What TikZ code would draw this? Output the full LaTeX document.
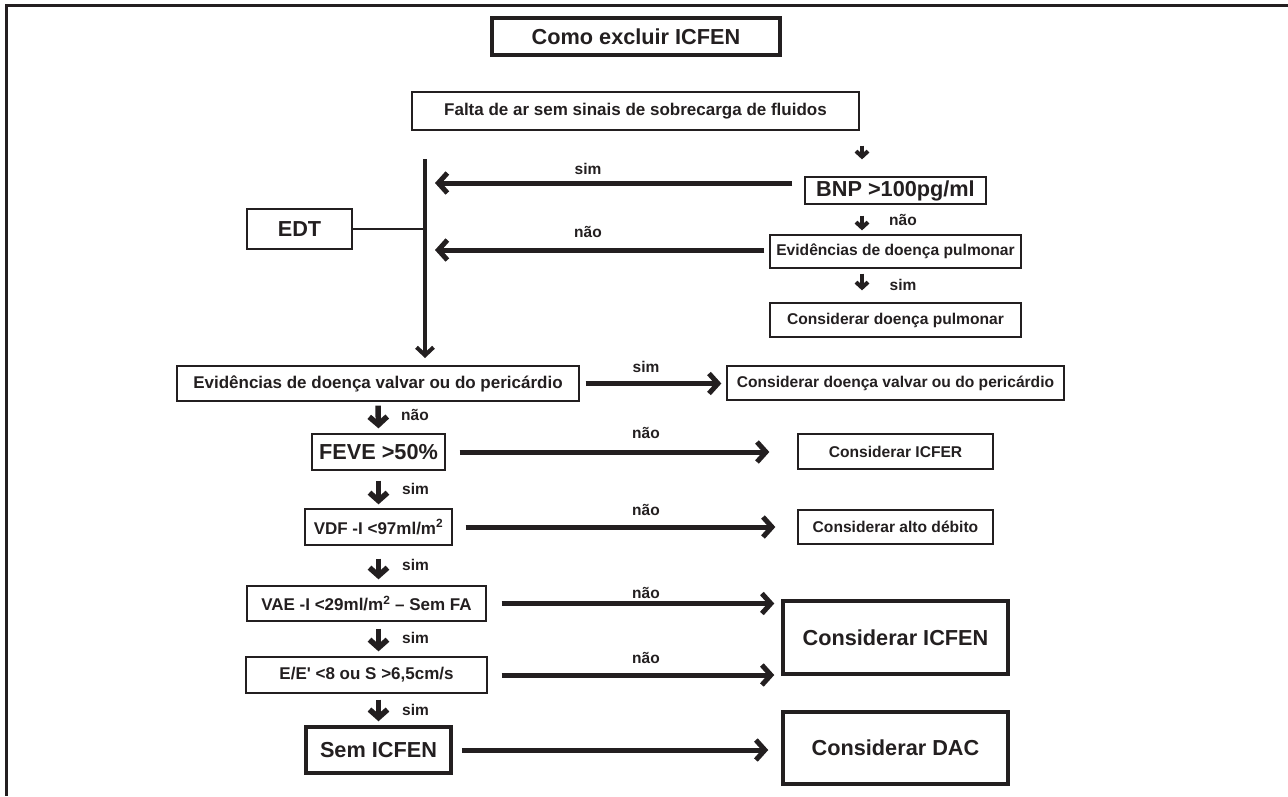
\documentclass[tikz,border=0pt]{standalone}
\usepackage{fontspec}
\setmainfont{Liberation Sans}
\usetikzlibrary{arrows.meta, calc}
\definecolor{ink}{HTML}{231F20}

\begin{document}
\begin{tikzpicture}[
    x=1pt, y=-1pt,
    box/.style={draw=ink, line width=1.3pt, text=ink, font=\fontsize{15.6}{18}\selectfont\bfseries, inner sep=2pt},
    midbox/.style={box, font=\fontsize{17}{20}\selectfont\bfseries},
    bigbox/.style={box, font=\fontsize{21.7}{25}\selectfont\bfseries},
    heavybox/.style={bigbox, line width=3.5pt},
    lbl/.style={text=ink, font=\fontsize{15.5}{18}\selectfont\bfseries, inner sep=1pt},
    harr/.style={draw=ink, line width=5pt, -{Straight Barb[length=9pt, width=20pt, sharp]}},
    darr/.style={draw=ink, line width=5.5pt, -{Straight Barb[length=8pt, width=18pt, sharp]}},
    sarr/.style={draw=ink, line width=4pt, -{Straight Barb[length=5.5pt, width=12pt, sharp]}},
    vline/.style={draw=ink, line width=4pt, -{Straight Barb[length=8pt, width=17pt, sharp]}},
    thinline/.style={draw=ink, line width=2pt},
    frame/.style={draw=ink, line width=3pt},
  ]
    \useasboundingbox (0,0) rectangle (1288,796);
    \draw[frame] (1288,5) -- (6,5) -- (6,796);

    % Top of the chart
    \node[heavybox, minimum width=288pt, minimum height=37pt] (title) at (636,36.5) {Como excluir ICFEN};
    \node[midbox, minimum width=447pt, minimum height=38pt] (falta) at (635.5,111) {Falta de ar sem sinais de sobrecarga de fluidos};
    \node[bigbox, minimum width=181pt, minimum height=27pt] (bnp) at (895.5,190.5) {BNP >100pg/ml};
    \node[box, minimum width=251pt, minimum height=33pt] (pulm) at (895.5,251.5) {Evidências de doença pulmonar};
    \node[box, minimum width=251pt, minimum height=34pt] (conpulm) at (895.5,320) {Considerar doença pulmonar};
    \node[bigbox, minimum width=105pt, minimum height=40pt] (edt) at (299.5,229) {EDT};

    % EDT bar
    \coordinate (vtop) at (425,159);
    \coordinate (vbot) at (425,358);
    \coordinate (jsim) at (425,183);
    \coordinate (jnao) at (425,250);

    % Main column
    \node[midbox, minimum width=402pt, minimum height=35pt] (valv) at (378,383.5) {Evidências de doença valvar ou do pericárdio};
    \node[bigbox, minimum width=133pt, minimum height=36pt] (feve) at (378.5,452) {FEVE >50\%};
    \node[midbox, minimum width=147pt, minimum height=36pt] (vdf) at (378.5,527) {VDF -I <97ml/m\textsuperscript{2}};
    \node[midbox, minimum width=239pt, minimum height=35pt] (vae) at (366.5,603.5) {VAE -I <29ml/m\textsuperscript{2} – Sem FA};
    \node[midbox, minimum width=241pt, minimum height=36pt] (ee) at (366.5,675) {E/E\textquotesingle{} <8 ou S >6,5cm/s};
    \node[heavybox, minimum width=145pt, minimum height=46pt] (sem) at (378.5,750) {Sem ICFEN};

    % Outcomes
    \node[box, minimum width=337pt, minimum height=34pt] (conval) at (895.5,383) {Considerar doença valvar ou do pericárdio};
    \node[box, minimum width=195pt, minimum height=35pt] (icfer) at (895.5,451.5) {Considerar ICFER};
    \node[box, minimum width=195pt, minimum height=34pt] (alto) at (895.5,527) {Considerar alto débito};
    \node[heavybox, minimum width=225pt, minimum height=73pt] (icfen) at (895.5,637.5) {Considerar ICFEN};
    \node[heavybox, minimum width=225pt, minimum height=72pt] (dac) at (895.5,748) {Considerar DAC};

    % Arrows, right column
    \draw[sarr] ($(bnp.north |- falta.south)+(-33.5,15)$) -- ($(bnp.north)+(-33.5,-17)$);
    \draw[sarr] ($(bnp.south)+(-33.5,11)$) -- ($(pulm.north)+(-33.5,-4)$);
    \draw[sarr] ($(pulm.south)+(-33.5,5)$) -- ($(conpulm.north)+(-33.5,-12)$);
    \node[lbl] (lnbnp) at (903,220) {não};
    \node[lbl] (lspulm) at (903,285) {sim};

    % Arrows into the EDT bar
    \draw[vline] (vtop) -- (vbot);
    \draw[thinline] (edt.east) -- (edt.east -| vtop);
    \draw[harr, shorten <=12pt, shorten >=10pt] (bnp.west |- jsim) -- (jsim);
    \draw[harr, shorten <=5pt, shorten >=10pt] (pulm.west |- jnao) -- (jnao);
    \node[lbl] (lsbnp) at (588,169) {sim};
    \node[lbl] (lnpulm) at (588,232) {não};

    % Arrows, main column
    \draw[darr] ($(valv.south)+(0,4)$) -- ($(feve.north)+(0,-5)$);
    \draw[darr] ($(feve.south)+(0,10)$) -- ($(vdf.north)+(0,-4)$);
    \draw[darr] ($(vdf.south)+(0,13)$) -- ($(vae.north -| vdf.south)+(0,-6)$);
    \draw[darr] ($(vae.south -| vdf.south)+(0,7)$) -- ($(ee.north -| vdf.south)+(0,-5)$);
    \draw[darr] ($(ee.south -| sem.north)+(0,6)$) -- ($(sem.north)+(0,-4)$);
    \node[lbl, anchor=west] (lnvalv) at (400,415) {não};
    \node[lbl, anchor=west] (lsfeve) at (401,489) {sim};
    \node[lbl, anchor=west] (lsvdf) at (401,565) {sim};
    \node[lbl, anchor=west] (lsvae) at (401,638) {sim};
    \node[lbl, anchor=west] (lsee) at (401,710) {sim};

    % Arrows to the outcomes
    \draw[harr, shorten <=6pt, shorten >=5pt] (valv.east) -- (valv.east -| conval.west);
    \draw[harr, shorten <=14pt, shorten >=28pt] (feve.east) -- (feve.east -| icfer.west);
    \draw[harr, shorten <=13pt, shorten >=22pt] (vdf.east) -- (vdf.east -| alto.west);
    \draw[harr, shorten <=15pt, shorten >=7pt] (vae.east) -- (vae.east -| icfen.west);
    \draw[harr, shorten <=14pt, shorten >=7pt] (ee.east) -- (ee.east -| icfen.west);
    \draw[harr, shorten <=9pt, shorten >=13pt] (sem.east) -- (sem.east -| dac.west);
    \node[lbl] (lsvalv) at (646,367) {sim};
    \node[lbl] (lnfeve) at (646,433) {não};
    \node[lbl] (lnvdf) at (646,510) {não};
    \node[lbl] (lnvae) at (646,593) {não};
    \node[lbl] (lnee) at (646,658) {não};
\end{tikzpicture}
\end{document}
